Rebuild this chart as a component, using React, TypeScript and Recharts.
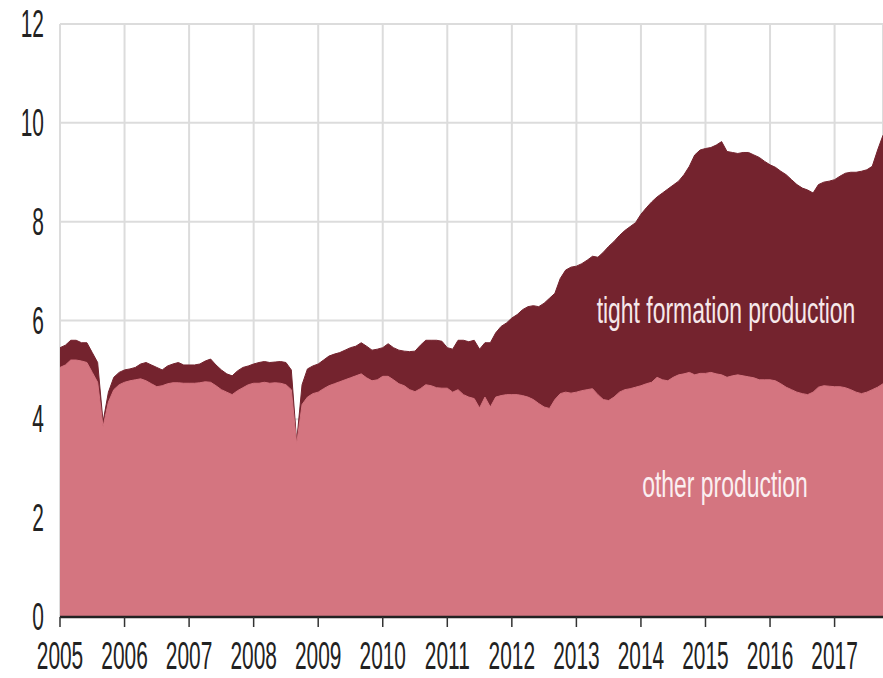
import React from "react";
import { AreaChart, Area, XAxis, YAxis, CartesianGrid } from "recharts";

// monthly values, Jan 2005 .. Oct 2017 (million barrels per day)
const startYear = 2005;

const otherProduction = [
  5.05, 5.1, 5.2, 5.2, 5.18, 5.15, 4.95, 4.75, 3.85, 4.35, 4.6, 4.7, // 2005
  4.75, 4.78, 4.8, 4.82, 4.78, 4.72, 4.66, 4.68, 4.72, 4.74, 4.74, 4.73, // 2006
  4.73, 4.73, 4.74, 4.76, 4.75, 4.68, 4.6, 4.55, 4.5, 4.58, 4.64, 4.7, // 2007
  4.73, 4.73, 4.75, 4.73, 4.74, 4.73, 4.7, 4.6, 3.5, 4.3, 4.45, 4.52, // 2008
  4.55, 4.62, 4.68, 4.72, 4.76, 4.8, 4.84, 4.88, 4.92, 4.84, 4.78, 4.8, // 2009
  4.87, 4.87, 4.8, 4.72, 4.68, 4.6, 4.56, 4.62, 4.7, 4.68, 4.64, 4.63, // 2010
  4.63, 4.55, 4.6, 4.5, 4.45, 4.42, 4.23, 4.45, 4.25, 4.45, 4.48, 4.5, // 2011
  4.5, 4.5, 4.48, 4.45, 4.4, 4.32, 4.25, 4.22, 4.4, 4.52, 4.55, 4.53, // 2012
  4.55, 4.58, 4.6, 4.62, 4.5, 4.4, 4.38, 4.45, 4.55, 4.6, 4.62, 4.65, // 2013
  4.68, 4.72, 4.75, 4.85, 4.8, 4.78, 4.85, 4.9, 4.92, 4.95, 4.9, 4.93, // 2014
  4.93, 4.95, 4.92, 4.9, 4.85, 4.88, 4.9, 4.88, 4.86, 4.84, 4.8, 4.8, // 2015
  4.8, 4.78, 4.72, 4.65, 4.6, 4.55, 4.52, 4.5, 4.55, 4.65, 4.68, 4.67, // 2016
  4.66, 4.66, 4.64, 4.6, 4.55, 4.52, 4.55, 4.6, 4.65, 4.72, // 2017
];

const totalProduction = [
  5.45, 5.5, 5.6, 5.6, 5.55, 5.55, 5.35, 5.15, 3.95, 4.55, 4.85, 4.95, // 2005
  5.0, 5.02, 5.05, 5.12, 5.15, 5.1, 5.05, 5.0, 5.08, 5.12, 5.15, 5.1, // 2006
  5.1, 5.1, 5.12, 5.18, 5.22, 5.1, 5.0, 4.92, 4.88, 4.98, 5.05, 5.08, // 2007
  5.12, 5.15, 5.17, 5.15, 5.16, 5.17, 5.15, 5.0, 3.55, 4.7, 5.02, 5.08, // 2008
  5.12, 5.2, 5.28, 5.32, 5.35, 5.4, 5.45, 5.48, 5.55, 5.48, 5.4, 5.42, // 2009
  5.45, 5.53, 5.45, 5.4, 5.38, 5.37, 5.38, 5.5, 5.6, 5.6, 5.6, 5.58, // 2010
  5.45, 5.42, 5.6, 5.6, 5.57, 5.6, 5.42, 5.55, 5.55, 5.75, 5.88, 5.95, // 2011
  6.05, 6.12, 6.22, 6.28, 6.3, 6.28, 6.35, 6.45, 6.55, 6.85, 7.02, 7.08, // 2012
  7.1, 7.15, 7.22, 7.3, 7.28, 7.38, 7.5, 7.6, 7.72, 7.82, 7.9, 7.98, // 2013
  8.15, 8.28, 8.4, 8.5, 8.58, 8.66, 8.74, 8.82, 8.95, 9.12, 9.35, 9.45, // 2014
  9.48, 9.5, 9.55, 9.62, 9.42, 9.4, 9.38, 9.4, 9.4, 9.35, 9.3, 9.22, // 2015
  9.15, 9.1, 9.02, 8.95, 8.85, 8.75, 8.68, 8.64, 8.58, 8.75, 8.8, 8.82, // 2016
  8.85, 8.92, 8.98, 9.0, 9.0, 9.02, 9.05, 9.12, 9.45, 9.75, // 2017
];

const yearTicks = [
  2005, 2006, 2007, 2008, 2009, 2010, 2011, 2012, 2013, 2014, 2015, 2016, 2017,
];
const valueTicks = [0, 2, 4, 6, 8, 10, 12];

const seriesLabels = ["tight formation production", "other production"];

const data = otherProduction.map((other, i) => ({
  t: startYear + i / 12,
  other,
  total: totalProduction[i],
}));

const FONT = "'Liberation Sans', Arial, sans-serif";
const MAROON = "#74232e";
const PINK = "#d47580";

function XTick(props: any) {
  const { x, y, payload } = props;
  return (
    <text
      transform={`translate(${x},${y + 40}) scale(0.55,1)`}
      textAnchor="middle"
      fontFamily={FONT}
      fontSize={38}
      fill="#222"
    >
      {payload.value}
    </text>
  );
}

function YTick(props: any) {
  const { x, y, payload } = props;
  return (
    <text
      transform={`translate(${x - 8},${y + 13}) scale(0.55,1)`}
      textAnchor="end"
      fontFamily={FONT}
      fontSize={38}
      fill="#222"
    >
      {payload.value}
    </text>
  );
}

export default function App() {
  return (
    <div style={{ position: "absolute", left: 0, top: 0, background: "#fff" }}>
      <AreaChart
        width={883}
        height={678}
        data={data}
        margin={{ top: 24, right: 0, bottom: 0, left: 0 }}
      >
        <CartesianGrid stroke="#dcdcdc" strokeWidth={2} />
        <XAxis
          dataKey="t"
          type="number"
          domain={[startYear, startYear + (otherProduction.length - 1) / 12]}
          ticks={yearTicks}
          height={61}
          tick={<XTick />}
          tickSize={10}
          tickLine={{ stroke: "#333", strokeWidth: 1.5 }}
          axisLine={{ stroke: "#222", strokeWidth: 2.5 }}
          allowDataOverflow
        />
        <YAxis
          domain={[0, 12]}
          ticks={valueTicks}
          width={60}
          axisLine={false}
          tickLine={false}
          tick={<YTick />}
        />
        <Area
          type="linear"
          dataKey="total"
          stroke={MAROON}
          strokeWidth={1}
          fill={MAROON}
          fillOpacity={1}
          isAnimationActive={false}
        />
        <Area
          type="linear"
          dataKey="other"
          stroke={PINK}
          strokeWidth={1}
          fill={PINK}
          fillOpacity={1}
          isAnimationActive={false}
        />
      </AreaChart>
      {/* series names sit inside the filled areas */}
      <svg
        width={883}
        height={678}
        style={{ position: "absolute", left: 0, top: 0, pointerEvents: "none" }}
      >
        <text
          transform="translate(726,323) scale(0.62,1)"
          textAnchor="middle"
          fontFamily={FONT}
          fontSize={37}
          fill="#f6e8ea"
        >
          {seriesLabels[0]}
        </text>
        <text
          transform="translate(725,497) scale(0.62,1)"
          textAnchor="middle"
          fontFamily={FONT}
          fontSize={37}
          fill="#fbeff1"
        >
          {seriesLabels[1]}
        </text>
      </svg>
    </div>
  );
}
